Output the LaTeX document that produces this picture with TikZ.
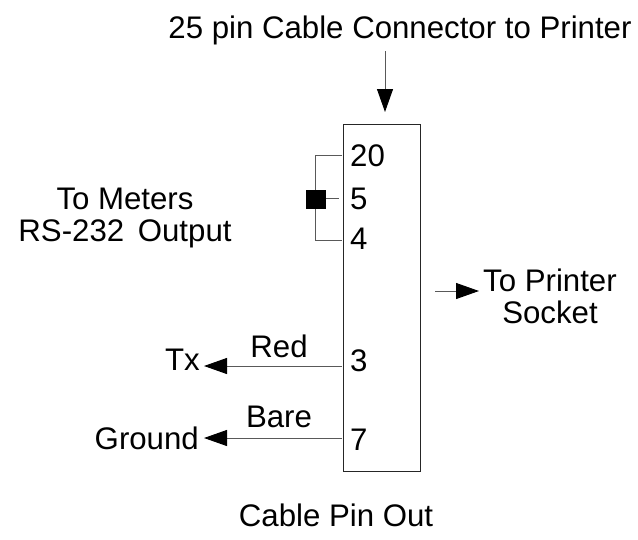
\documentclass[tikz,border=0pt]{standalone}
\usepackage{fontspec}
\setmainfont{Liberation Sans}
\usetikzlibrary{arrows.meta}
\tikzset{
  lbl/.style={inner sep=0pt, anchor=base, font=\fontsize{31.2pt}{32pt}\selectfont, align=center},
  pin/.style={lbl, anchor=base west},
  wire/.style={line width=1pt, black!65},
  arr/.style={wire, -{Triangle[length=23pt,width=16pt,black]}}
}
\begin{document}
\begin{tikzpicture}[x=1pt,y=-1pt]
  \useasboundingbox (0,0) rectangle (638,539);
  \node[draw, line width=0.8pt, black!85, minimum width=77pt, minimum height=347pt, inner sep=0pt] (conn) at (381.5,297.5) {};
  \node[lbl] (title) at (400,38) {25 pin Cable Connector to Printer};
  \coordinate (arrtop) at (385,51);
  \coordinate (arrtip) at (385,112);
  \draw[arr] (arrtop) -- (arrtip);

  \node[pin] (p20) at (350,166) {20};
  \node[pin] (p5) at (350,209) {5};
  \node[pin] (p4) at (350,249) {4};
  \node[pin] (p3) at (350,371) {3};
  \node[pin] (p7) at (350,450) {7};

  \coordinate (jtop) at (315,155);
  \coordinate (jbot) at (315,240);
  \coordinate (w20) at (342,155);
  \coordinate (w4) at (342,240);
  \coordinate (w5) at (339,198);
  \draw[wire] (w20) -- (jtop) -- (jbot) -- (w4);
  \node[fill=black, minimum width=20pt, minimum height=19pt, inner sep=0pt] (jack) at (316,199.5) {};
  \draw[wire] (jack.east |- w5) -- (w5);

  \node[lbl] (meters) at (125,241) {To Meters\\RS-232\hspace{5pt} Output};
  \node[lbl] (socket) at (550,323) {To Printer\\Socket};
  \coordinate (sockfrom) at (435,291);
  \coordinate (sockto) at (479,291);
  \draw[arr] (sockfrom) -- (sockto);

  \node[lbl, anchor=base east] (tx) at (200,370) {Tx};
  \node[lbl, anchor=base east] (ground) at (199,449) {Ground};
  \coordinate (w3) at (342,366);
  \coordinate (w7) at (342,438);
  \draw[arr, shorten >=4pt] (w3) -- (w3 -| tx.east);
  \draw[arr, shorten >=5pt] (w7) -- (w7 -| ground.east);
  \node[lbl] (red) at (279,357) {Red};
  \node[lbl] (bare) at (279,427) {Bare};
  \node[lbl] (pinout) at (336,526) {Cable Pin Out};
\end{tikzpicture}
\end{document}
